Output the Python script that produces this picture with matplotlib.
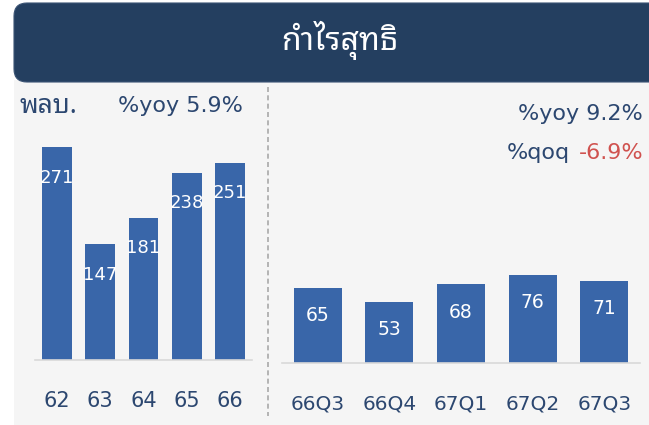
import matplotlib
matplotlib.use("Agg")
import matplotlib.pyplot as plt
from matplotlib.patches import Rectangle, FancyBboxPatch
from matplotlib.lines import Line2D
from matplotlib.transforms import IdentityTransform

# data
years = ["62", "63", "64", "65", "66"]
year_profit = [271, 147, 181, 238, 251]
quarters = ["66Q3", "66Q4", "67Q1", "67Q2", "67Q3"]
quarter_profit = [65, 53, 68, 76, 71]
title = "กำไรสุทธิ"
unit = "พลบ."
yoy_year = "%yoy 5.9%"
yoy_q = "%yoy 9.2%"
qoq_label = "%qoq"
qoq_value = "-6.9%"

W, H = 649, 425
NAVY = "#243f60"
BAR = "#3966a9"
TXT = "#2c4770"
RED = "#d0524f"
THAI = ["Noto Sans Thai Looped", "DejaVu Sans"]

fig = plt.figure(figsize=(W / 100, H / 100), dpi=100)
fig.patch.set_facecolor("white")


def fx(px):
    return px / W


def fy(py):
    # py measured from the top of the picture
    return 1 - py / H


# light grey panel behind everything below the header
fig.patches.append(Rectangle((fx(14), 0), 1 - fx(14), fy(80), transform=fig.transFigure,
                             facecolor="#f5f5f5", edgecolor="none", zorder=-5))
# header bar with rounded corners (pixel coords)
hdr = FancyBboxPatch((14, H - 82), W + 30 - 14, 79, boxstyle="round,pad=0,rounding_size=13",
                     transform=IdentityTransform(), facecolor=NAVY, edgecolor="#3a5374",
                     linewidth=0.8, zorder=1)
fig.patches.append(hdr)
fig.text(fx(340), fy(50), title, color="white", fontsize=23, family=THAI,
         ha="center", va="baseline")

# dashed divider
fig.add_artist(Line2D([fx(268), fx(268)], [fy(87), fy(416)], transform=fig.transFigure,
                      color="#a9a9a9", linestyle=(0, (3, 2)), linewidth=1.2))


def make_axes(left, right, base, px_per_unit, ymax, labelsize):
    height = ymax * px_per_unit
    ax = fig.add_axes([fx(left), fy(base), fx(right - left), height / H], zorder=2)
    ax.set_facecolor("none")
    ax.set_xlim(-0.5, 4.5)
    ax.set_ylim(0, ymax)
    for s in ["top", "right", "left"]:
        ax.spines[s].set_visible(False)
    ax.spines["bottom"].set_color("#d9d9d9")
    ax.spines["bottom"].set_linewidth(1.2)
    ax.set_yticks([])
    ax.tick_params(axis="x", length=0, pad=22.5, labelsize=labelsize, labelcolor=TXT)
    return ax


# yearly panel
ax1 = make_axes(35, 252, 360, 0.786, 300, 15)
x1 = range(len(years))
ax1.bar(x1, year_profit, width=0.69, color=BAR, zorder=2)
ax1.set_xticks(list(x1))
ax1.set_xticklabels(years)
for i, v in enumerate(year_profit):
    ax1.annotate(str(v), (i, v), xytext=(0, -22), textcoords="offset points",
                 ha="center", va="center", color="white", fontsize=13, zorder=3)

# quarterly panel
ax2 = make_axes(282, 640, 363, 1.157, 100, 14.5)
x2 = range(len(quarters))
ax2.bar(x2, quarter_profit, width=0.67, color=BAR, zorder=2)
ax2.set_xticks(list(x2))
ax2.set_xticklabels(quarters)
for i, v in enumerate(quarter_profit):
    ax2.annotate(str(v), (i, v), xytext=(0, -20), textcoords="offset points",
                 ha="center", va="center", color="white", fontsize=13.5, zorder=3)

# notes
fig.text(fx(20), fy(113), unit, color=TXT, fontsize=19, family=THAI, fontweight="bold",
         ha="left", va="baseline")
fig.text(fx(243), fy(112), yoy_year, color=TXT, fontsize=16, ha="right", va="baseline")
fig.text(fx(643), fy(120), yoy_q, color=TXT, fontsize=16, ha="right", va="baseline")
t_val = fig.text(fx(643), fy(159), qoq_value, color=RED, fontsize=16, ha="right", va="baseline")
fig.canvas.draw()
val_left = t_val.get_window_extent().x0
fig.text((val_left - 9) / W, fy(159), qoq_label, color=TXT, fontsize=16, ha="right", va="baseline")

fig.savefig("out.png", dpi=100)
